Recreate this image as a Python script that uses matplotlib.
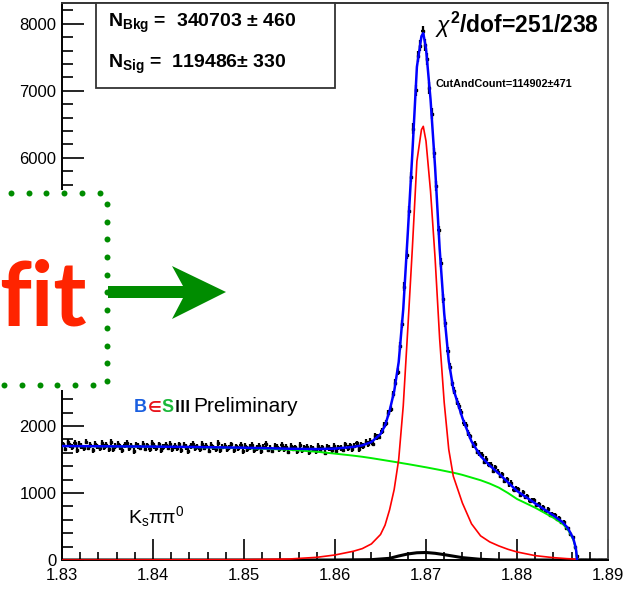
import numpy as np
import matplotlib
matplotlib.use('Agg')
import matplotlib.pyplot as plt
from matplotlib.patches import Rectangle, Polygon
from matplotlib.lines import Line2D
from matplotlib.ticker import MultipleLocator, FormatStrFormatter, FuncFormatter

plt.rcParams['font.family'] = ['Liberation Sans', 'DejaVu Sans']
plt.rcParams['mathtext.fontset'] = 'custom'
plt.rcParams['mathtext.rm'] = 'Liberation Sans'
plt.rcParams['mathtext.it'] = 'Liberation Sans:italic'
plt.rcParams['mathtext.bf'] = 'Liberation Sans:bold'

W, H = 635, 590

# M(Ks pi pi0) histogram, 240 bins between 1.83 and 1.89 GeV
x_lo, x_hi = 1.83, 1.89
counts = [
    1725, 1660, 1759, 1709, 1684, 1744, 1643, 1728, 1703, 1668,
    1767, 1677, 1712, 1637, 1731, 1696, 1671, 1746, 1685, 1715,
    1650, 1760, 1659, 1704, 1734, 1689, 1643, 1718, 1748, 1673,
    1707, 1627, 1722, 1697, 1676, 1736, 1661, 1711, 1650, 1750,
    1700, 1665, 1724, 1634, 1688, 1713, 1678, 1737, 1652, 1701,
    1666, 1726, 1640, 1715, 1689, 1624, 1704, 1728, 1668, 1692,
    1652, 1737, 1676, 1706, 1630, 1715, 1680, 1659, 1744, 1638,
    1693, 1708, 1652, 1682, 1726, 1641, 1696, 1665, 1715, 1619,
    1699, 1659, 1683, 1718, 1643, 1672, 1707, 1627, 1691, 1731,
    1646, 1675, 1630, 1700, 1684, 1649, 1719, 1658, 1693, 1617,
    1707, 1661, 1679, 1628, 1717, 1635, 1669, 1688, 1612, 1675,
    1654, 1623, 1697, 1638, 1679, 1601, 1692, 1668, 1640, 1701,
    1623, 1681, 1674, 1647, 1725, 1668, 1711, 1650, 1708, 1739,
    1650, 1716, 1698, 1760, 1732, 1774, 1735, 1852, 1834, 1841,
    1930, 2015, 2042, 2186, 2253, 2473, 2645, 2809, 3191, 3515,
    4077, 4556, 5208, 5717, 6436, 7005, 7512, 7675, 7885, 7688,
    7472, 7041, 6657, 6075, 5579, 4917, 4438, 3901, 3532, 3120,
    2882, 2641, 2527, 2363, 2294, 2205, 2042, 2011, 1889, 1843,
    1718, 1728, 1618, 1598, 1568, 1468, 1508, 1418, 1420, 1330,
    1385, 1320, 1254, 1281, 1184, 1206, 1129, 1156, 1044, 1066,
    1053, 970, 1012, 939, 951, 873, 895, 892, 814, 841,
    764, 786, 729, 756, 669, 686, 677, 608, 633, 563,
    566, 484, 475, 395, 345, 200, 60, 0, 0, 0,
    0, 0, 0, 0, 0, 0, 0, 0, 0, 0,
]

# fit components
m_fit = [1.8300, 1.8350, 1.8400, 1.8450, 1.8500, 1.8550, 1.8580, 1.8600,
         1.8620, 1.8630, 1.8640, 1.8650, 1.8655, 1.8660, 1.8665, 1.8670,
         1.8675, 1.8680, 1.8685, 1.8690, 1.8695, 1.8697, 1.8700, 1.8705,
         1.8710, 1.8715, 1.8720, 1.8725, 1.8730, 1.8735, 1.8740, 1.8750,
         1.8760, 1.8770, 1.8780, 1.8790, 1.8800, 1.8820, 1.8840, 1.8850,
         1.8855, 1.8858, 1.8862, 1.8864, 1.8865, 1.8866]
bkg_fit = [1700, 1696, 1690, 1682, 1670, 1645, 1615, 1587,
           1557, 1540, 1520, 1498, 1487, 1476, 1465, 1454,
           1442, 1431, 1419, 1407, 1395, 1390, 1383, 1370,
           1357, 1344, 1330, 1316, 1302, 1287, 1270, 1230,
           1190, 1140, 1080, 1000, 910, 780, 630, 540,
           470, 405, 300, 200, 130, 0]
sig_fit = [0, 0, 2, 3, 5, 15, 40, 75,
           130, 170, 240, 380, 520, 750, 1050, 1500,
           2300, 3450, 4650, 5950, 6420, 6470, 6250, 5500,
           4500, 3300, 2350, 1650, 1250, 1050, 850, 540,
           360, 270, 210, 160, 120, 65, 35, 25,
           20, 18, 15, 12, 10, 0]

# small peaking component along the bottom
m_peak = [1.830, 1.860, 1.864, 1.866, 1.867, 1.868, 1.869, 1.870,
          1.871, 1.872, 1.874, 1.876, 1.878, 1.890]
peak_counts = [0, 0, 5, 25, 60, 90, 108, 112, 100, 80, 35, 10, 0, 0]

n_bkg, n_bkg_err = 340703, 460
n_sig, n_sig_err = 119486, 330
cut_count, cut_count_err = 114902, 471


def fx(x):
    return x / W


def fy(y):
    return 1 - y / H


fig = plt.figure(figsize=(W / 100, H / 100), dpi=100)
ax = fig.add_axes([fx(62), 30 / H, (608 - 62) / W, (587 - 30) / H])

counts = np.array(counts, dtype=float)
edges = np.linspace(x_lo, x_hi, len(counts) + 1)
centers = 0.5 * (edges[:-1] + edges[1:])
half = 0.5 * (edges[1] - edges[0])

ax.errorbar(centers, counts, yerr=np.sqrt(counts), xerr=half, fmt='s',
            ms=1.6, color='black', elinewidth=1.6, capsize=0, zorder=2)
ax.plot(m_peak, peak_counts, color='black', lw=2.2, zorder=2)

total_fit = np.array(bkg_fit) + np.array(sig_fit)
ax.plot(m_fit, bkg_fit, color='#00ee00', lw=1.4, zorder=3)
ax.plot(m_fit, sig_fit, color='#ff0000', lw=1.2, zorder=3)
ax.plot(m_fit, total_fit, color='#0000ff', lw=1.8, zorder=4)

ax.set_xlim(x_lo, x_hi)
ax.set_ylim(0, 8310)
ax.xaxis.set_major_locator(MultipleLocator(0.01))
ax.xaxis.set_minor_locator(MultipleLocator(0.002))
ax.yaxis.set_major_locator(MultipleLocator(1000))
ax.yaxis.set_minor_locator(MultipleLocator(200))
ax.xaxis.set_major_formatter(FormatStrFormatter('%.2f'))
# labels 3000-5000 sit under the callout box
ax.yaxis.set_major_formatter(FuncFormatter(
    lambda v, pos: '' if 2500 < v < 5500 else '%d' % v))
ax.tick_params(which='both', direction='in', top=False, right=False,
               labelsize=12, width=1.2, colors='black')
ax.tick_params(axis='x', which='major', length=15, pad=6)
ax.tick_params(axis='x', which='minor', length=6)
ax.tick_params(axis='y', which='major', length=16, pad=4)
ax.tick_params(axis='y', which='minor', length=8)
for sp in ax.spines.values():
    sp.set_linewidth(1.4)
ax.spines['top'].set_color('#333333')
ax.spines['right'].set_color('#555555')

# fit result box
fig.add_artist(Rectangle((fx(96), fy(88)), (335 - 96) / W, 85 / H,
                         transform=fig.transFigure, facecolor='white',
                         edgecolor='#333333', lw=1.3, zorder=5))
fig.text(fx(108), fy(27), r'N$_{\mathbf{Bkg}}$ =  %d ± %d' % (n_bkg, n_bkg_err),
         fontsize=14, fontweight='bold', va='baseline', zorder=6)
fig.text(fx(108), fy(68), r'N$_{\mathbf{Sig}}$ =  %d± %d' % (n_sig, n_sig_err),
         fontsize=14, fontweight='bold', va='baseline', zorder=6)

fig.text(fx(435), fy(33), r'$\chi^{\mathbf{2}}$/dof=251/238', fontsize=16.5,
         fontweight='bold', va='baseline', zorder=6)
fig.text(fx(435), fy(87), 'CutAndCount=%d±%d' % (cut_count, cut_count_err),
         fontsize=7.8, fontweight='bold', va='baseline', zorder=6)

# experiment label, pieces laid out one after another
renderer = fig.canvas.get_renderer()
logo = [('B', '#1a5fe0', 13, ['Liberation Sans']),
        ('∈', '#e8141c', 11, ['DejaVu Sans']),
        ('S', '#1cb83a', 13, ['Liberation Sans']),
        ('Ⅲ', 'black', 11, ['Noto Sans CJK JP'])]
x_cur = 134
for ch, col, size, fam in logo:
    t = fig.text(fx(x_cur), fy(412), ch, color=col, fontsize=size,
                 fontweight='bold', va='baseline', family=fam, zorder=6)
    x_cur = t.get_window_extent(renderer).x1 + 0.5
fig.text(fx(max(x_cur + 3, 193)), fy(412), 'Preliminary', color='black',
         fontsize=15, va='baseline', zorder=6)

fig.text(fx(128), fy(523), r'K$_{\mathregular{s}}$ππ$^{\mathregular{0}}$',
         fontsize=14, va='baseline', zorder=6)

# "fit" callout on the left
fig.add_artist(Rectangle((0, fy(390)), 110 / W, 200 / H,
                         transform=fig.transFigure, facecolor='white',
                         edgecolor='none', zorder=7))
top_x = np.arange(11, 100, 17.7)
bot_x = np.arange(4, 95, 17.8)
side_y = np.arange(204, 382, 17.7)
dots_x = list(top_x) + [107] * len(side_y) + list(bot_x)
dots_y = [193] * len(top_x) + list(side_y) + [385] * len(bot_x)
fig.add_artist(Line2D([fx(v) for v in dots_x], [fy(v) for v in dots_y],
                      transform=fig.transFigure, ls='none', marker='o', ms=4.3,
                      color='#008c00', mec='none', zorder=8))
fig.text(fx(-1), fy(325), 'fit', fontsize=64, fontweight='bold',
         family=['Lato'], color='#ff2400', va='baseline', zorder=8)
arrow_px = [(108, 286), (183, 286), (172, 266), (226, 292), (172, 319),
            (183, 298), (108, 298)]
fig.add_artist(Polygon([(fx(a), fy(b)) for a, b in arrow_px], closed=True,
                       transform=fig.transFigure, facecolor='#008c00',
                       edgecolor='none', zorder=8))

fig.savefig('out.png', dpi=100)
